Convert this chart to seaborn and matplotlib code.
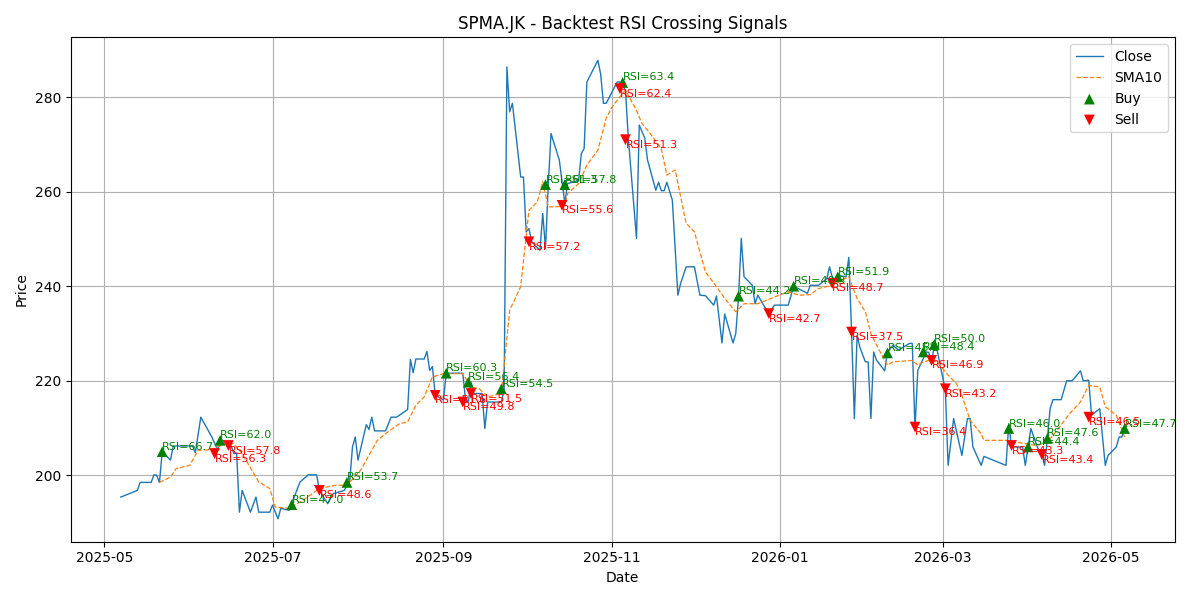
import matplotlib
matplotlib.use("Agg")
import matplotlib.pyplot as plt
import seaborn as sns
import pandas as pd

close_dates = ["2025-05-07","2025-05-13","2025-05-14","2025-05-18","2025-05-19","2025-05-20","2025-05-21","2025-05-22",
"2025-05-25","2025-05-26","2025-06-02","2025-06-03","2025-06-05","2025-06-09","2025-06-11","2025-06-13","2025-06-16",
"2025-06-17","2025-06-18","2025-06-19","2025-06-20","2025-06-23","2025-06-25","2025-06-26","2025-06-30","2025-07-01",
"2025-07-03","2025-07-04","2025-07-07","2025-07-11","2025-07-14","2025-07-17","2025-07-18","2025-07-21","2025-07-23",
"2025-07-27","2025-07-29","2025-07-30","2025-07-31","2025-08-01","2025-08-04","2025-08-05","2025-08-06","2025-08-07",
"2025-08-11","2025-08-13","2025-08-15","2025-08-19","2025-08-20","2025-08-21","2025-08-22","2025-08-25","2025-08-26",
"2025-08-27","2025-08-28","2025-08-29","2025-09-01","2025-09-02","2025-09-08","2025-09-09","2025-09-10","2025-09-11",
"2025-09-12","2025-09-15","2025-09-16","2025-09-17","2025-09-22","2025-09-23","2025-09-24","2025-09-25","2025-09-26",
"2025-09-29","2025-09-30","2025-10-01","2025-10-02","2025-10-03","2025-10-06","2025-10-07","2025-10-08","2025-10-09",
"2025-10-10","2025-10-13","2025-10-15","2025-10-16","2025-10-20","2025-10-21","2025-10-22","2025-10-23","2025-10-27",
"2025-10-28","2025-10-29","2025-10-30","2025-11-03","2025-11-04","2025-11-06","2025-11-07","2025-11-10","2025-11-11",
"2025-11-13","2025-11-14","2025-11-17","2025-11-18","2025-11-19","2025-11-20","2025-11-21","2025-11-23","2025-11-25",
"2025-11-26","2025-11-28","2025-12-01","2025-12-03","2025-12-05","2025-12-08","2025-12-09","2025-12-11","2025-12-12",
"2025-12-15","2025-12-16","2025-12-17","2025-12-18","2025-12-19","2025-12-22","2025-12-23","2025-12-24","2025-12-28",
"2025-12-30","2026-01-04","2026-01-06","2026-01-08","2026-01-11","2026-01-12","2026-01-15","2026-01-18","2026-01-19",
"2026-01-20","2026-01-21","2026-01-22","2026-01-25","2026-01-26","2026-01-27","2026-01-28","2026-01-29","2026-01-30",
"2026-02-01","2026-02-02","2026-02-03","2026-02-04","2026-02-05","2026-02-08","2026-02-09","2026-02-11","2026-02-13",
"2026-02-17","2026-02-18","2026-02-19","2026-02-20","2026-02-22","2026-02-23","2026-02-24","2026-02-25","2026-02-26",
"2026-02-27","2026-03-02","2026-03-03","2026-03-05","2026-03-08","2026-03-10","2026-03-11","2026-03-12","2026-03-15",
"2026-03-16","2026-03-24","2026-03-25","2026-03-26","2026-03-30","2026-03-31","2026-04-01","2026-04-02","2026-04-05",
"2026-04-06","2026-04-07","2026-04-08","2026-04-09","2026-04-10","2026-04-13","2026-04-15","2026-04-17","2026-04-20",
"2026-04-21","2026-04-23","2026-04-24","2026-04-27","2026-04-29","2026-04-30","2026-05-03","2026-05-04","2026-05-05",
"2026-05-06"]
close_values = [195.4,196.8,198.5,198.5,200.1,200.0,198.5,205.0,
203.2,206.2,206.2,204.8,212.3,208.1,205.5,207.4,206.3,
204.6,204.7,192.2,196.8,192.2,195.4,192.2,192.2,193.7,
190.8,193.0,192.6,198.6,200.1,200.1,196.8,194.0,196.1,
196.8,198.7,206.0,208.1,203.2,210.7,209.7,212.3,209.4,
209.4,212.3,212.3,213.9,224.5,221.7,224.6,224.6,226.2,
222.2,223.0,217.0,215.9,221.6,221.6,216.0,215.5,219.7,
217.3,217.3,209.9,215.5,215.5,218.1,286.4,276.9,278.7,
263.1,263.1,251.5,252.2,249.4,247.6,255.4,248.0,261.4,
272.3,266.7,257.5,261.7,262.4,268.1,269.1,283.2,287.8,
284.9,278.7,278.7,283.2,283.2,281.5,271.6,250.1,274.1,
271.3,266.7,260.3,262.0,260.2,260.2,262.0,258.2,238.1,
240.6,244.1,244.1,238.1,238.0,236.0,237.9,228.0,234.1,
228.0,230.0,237.7,250.1,242.0,240.2,236.3,238.1,234.1,
236.0,236.0,240.0,239.4,238.5,240.2,240.2,241.6,244.1,
241.9,240.9,242.3,242.0,246.1,230.3,212.0,229.6,227.1,
224.0,224.0,212.0,226.1,224.4,222.1,226.1,227.5,226.5,
227.9,227.9,209.9,222.2,224.7,226.1,226.0,223.6,227.9,
226.5,218.0,202.1,212.0,204.2,212.0,212.0,206.0,202.1,
204.0,202.1,210.9,206.0,206.0,202.1,206.0,209.9,205.0,
204.6,202.1,207.8,214.1,216.0,216.0,220.0,220.0,222.1,
220.0,220.1,212.7,214.1,202.1,204.2,206.0,208.1,208.1,
209.9]

sma_dates = ["2025-05-21","2025-05-25","2025-05-27","2025-06-01","2025-06-04","2025-06-09","2025-06-13","2025-06-17",
"2025-06-20","2025-06-26","2025-06-30","2025-07-02","2025-07-07","2025-07-12","2025-07-18","2025-07-24","2025-07-28",
"2025-08-02","2025-08-08","2025-08-11","2025-08-16","2025-08-19","2025-08-22","2025-08-25","2025-08-28","2025-09-01",
"2025-09-08","2025-09-11","2025-09-14","2025-09-17","2025-09-22","2025-09-25","2025-09-29","2025-10-02","2025-10-05",
"2025-10-07","2025-10-09","2025-10-12","2025-10-15","2025-10-16","2025-10-20","2025-10-23","2025-10-27","2025-10-30",
"2025-11-01","2025-11-04","2025-11-06","2025-11-10","2025-11-12","2025-11-15","2025-11-19","2025-11-21","2025-11-24",
"2025-11-28","2025-12-01","2025-12-05","2025-12-09","2025-12-12","2025-12-16","2025-12-19","2025-12-24","2025-12-30",
"2026-01-04","2026-01-08","2026-01-12","2026-01-15","2026-01-20","2026-01-26","2026-01-29","2026-02-01","2026-02-03",
"2026-02-06","2026-02-09","2026-02-11","2026-02-18","2026-02-20","2026-02-22","2026-02-24","2026-02-27","2026-03-03",
"2026-03-06","2026-03-08","2026-03-11","2026-03-15","2026-03-16","2026-03-24","2026-03-30","2026-04-04","2026-04-08",
"2026-04-12","2026-04-16","2026-04-20","2026-04-23","2026-04-27","2026-04-29","2026-05-03","2026-05-06"]
sma_values = [198.5,199.6,201.4,202.1,205.3,205.4,206.6,206.7,
204.6,198.6,197.2,193.3,193.0,194.7,197.2,197.9,197.9,
201.1,207.4,208.8,210.9,211.3,214.8,216.6,220.8,221.5,
221.5,218.7,218.3,216.6,217.3,234.9,239.9,256.1,257.8,
262.1,256.8,256.8,257.0,259.6,261.7,265.6,268.8,275.5,
277.8,280.1,281.5,277.2,274.4,272.3,269.1,263.5,264.6,
253.3,251.5,243.0,239.9,237.4,234.6,236.3,236.3,237.7,
238.8,238.1,238.2,239.5,240.2,242.0,237.4,234.6,230.0,
226.5,223.3,224.0,224.3,223.3,224.0,224.3,224.0,221.2,
219.4,216.9,211.6,208.8,207.4,207.4,206.8,206.3,207.0,
209.9,213.0,215.5,219.0,218.7,214.5,212.7,208.1]

buy_dates = ["2025-05-22","2025-06-12","2025-07-08","2025-07-28","2025-09-02","2025-09-10","2025-09-22","2025-10-08",
"2025-10-15","2025-11-05","2025-12-17","2026-01-06","2026-01-22","2026-02-09","2026-02-22","2026-02-26","2026-03-25",
"2026-04-01","2026-04-08","2026-05-06"]
buy_prices = [205.0,207.4,193.8,198.5,221.6,219.7,218.3,261.5,261.5,283.1,237.9,240.0,242.0,225.9,226.1,227.7,209.9,
206.0,207.8,209.9]
buy_rsi = [66.7,62.0,47.0,53.7,60.3,56.4,54.5,61.3,57.8,63.4,44.2,48.3,51.9,45.1,48.4,50.0,46.0,44.4,47.6,47.7]

sell_dates = ["2025-06-10","2025-06-15","2025-07-18","2025-08-29","2025-09-08","2025-09-11","2025-10-02","2025-10-14",
"2025-11-04","2025-11-06","2025-12-28","2026-01-20","2026-01-27","2026-02-19","2026-02-25","2026-03-02","2026-03-26",
"2026-04-06","2026-04-23"]
sell_prices = [204.6,206.3,196.8,216.9,215.5,217.3,249.4,257.1,281.8,271.0,234.2,240.6,230.3,210.2,224.3,218.3,206.3,
204.4,212.3]
sell_rsi = [56.3,57.8,48.6,51.6,49.8,51.5,57.2,55.6,62.4,51.3,42.7,48.7,37.5,36.4,46.9,43.2,43.3,43.4,46.5]

close_df = pd.DataFrame({"Date": pd.to_datetime(close_dates), "Price": close_values})
sma_df = pd.DataFrame({"Date": pd.to_datetime(sma_dates), "Price": sma_values})
buy_df = pd.DataFrame({"Date": pd.to_datetime(buy_dates), "Price": buy_prices, "RSI": buy_rsi})
sell_df = pd.DataFrame({"Date": pd.to_datetime(sell_dates), "Price": sell_prices, "RSI": sell_rsi})

fig, ax = plt.subplots(figsize=(12, 6), dpi=100)
sns.lineplot(data=close_df, x="Date", y="Price", ax=ax, color="#1f77b4", linewidth=1, label="Close")
sns.lineplot(data=sma_df, x="Date", y="Price", ax=ax, color="#ff7f0e", linewidth=0.9, linestyle="--", label="SMA10")
sns.scatterplot(data=buy_df, x="Date", y="Price", ax=ax, marker="^", color="green", s=60, edgecolor="none", label="Buy", zorder=3)
sns.scatterplot(data=sell_df, x="Date", y="Price", ax=ax, marker="v", color="red", s=60, edgecolor="none", label="Sell", zorder=3)

for d, p, r in zip(buy_df["Date"], buy_df["Price"], buy_df["RSI"]):
    ax.text(d, p, f"RSI={r:.1f}", color="green", fontsize=8, ha="left", va="bottom")
for d, p, r in zip(sell_df["Date"], sell_df["Price"], sell_df["RSI"]):
    ax.text(d, p, f"RSI={r:.1f}", color="red", fontsize=8, ha="left", va="top")

ax.set_title("SPMA.JK - Backtest RSI Crossing Signals")
ax.set_xlabel("Date")
ax.set_ylabel("Price")
ax.grid(True)
ax.legend(loc="upper right")
fig.tight_layout()
fig.savefig("out.png")
